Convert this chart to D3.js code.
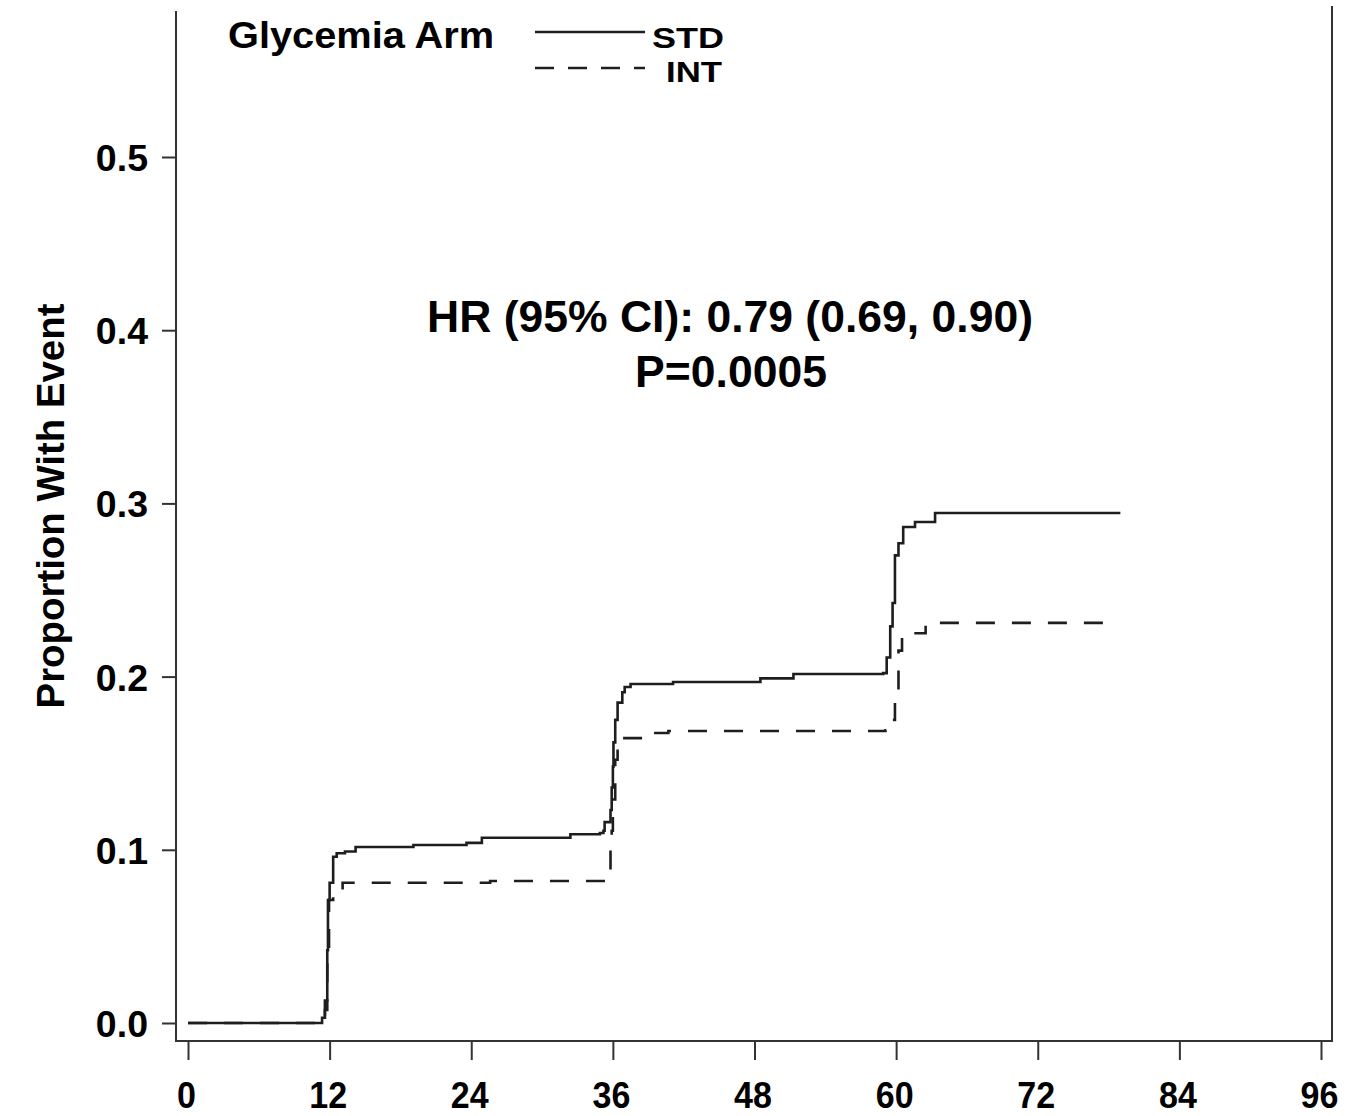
<!DOCTYPE html>
<html>
<head>
<meta charset="utf-8">
<script src="https://cdn.jsdelivr.net/npm/d3@7"></script>
<style>
  html, body { margin: 0; padding: 0; background: #fff; }
  svg { display: block; }
  text { font-family: "Liberation Sans", Arial, sans-serif; font-weight: bold; fill: #000; }
</style>
</head>
<body>
<svg id="chart" width="1347" height="1116"></svg>
<script>
// ---- data (months, proportion with event) ----
const stdTime = [0, 11.0, 11.36, 11.6, 11.8, 11.86, 12.0, 12.3, 12.6, 13.3, 14.2, 19.1, 23.6, 24.9, 32.4, 34.9, 35.2, 35.3, 35.8, 35.9, 36.0, 36.05, 36.2, 36.4, 36.8, 37.0, 37.5, 41.1, 48.5, 51.3, 58.9, 59.2, 59.5, 59.7, 59.9, 60.2, 60.6, 61.6, 63.3, 79.0];
const stdProp = [0, 0, 0.003, 0.013, 0.042, 0.071, 0.081, 0.096, 0.098, 0.099, 0.1016, 0.1028, 0.104, 0.107, 0.109, 0.1097, 0.111, 0.116, 0.123, 0.136, 0.148, 0.162, 0.175, 0.185, 0.191, 0.194, 0.1957, 0.1969, 0.199, 0.2015, 0.202, 0.211, 0.229, 0.2425, 0.270, 0.277, 0.2864, 0.2893, 0.2945, 0.2945];
const intTime = [0, 11.2, 11.6, 11.8, 11.95, 12.3, 13.1, 25.6, 35.2, 35.5, 35.8, 35.9, 36.0, 36.2, 36.4, 36.8, 39.6, 40.7, 59.1, 59.5, 59.7, 59.9, 60.2, 60.5, 62.5, 78.1];
const intProp = [0, 0, 0.0075, 0.036, 0.071, 0.077, 0.081, 0.082, 0.082, 0.0866, 0.104, 0.111, 0.129, 0.152, 0.162, 0.1645, 0.1674, 0.1686, 0.169, 0.1715, 0.175, 0.192, 0.215, 0.225, 0.231, 0.231];
const xTicks = [0, 12, 24, 36, 48, 60, 72, 84, 96];
const yTicks = [0.0, 0.1, 0.2, 0.3, 0.4, 0.5];
const seriesNames = ["STD", "INT"];
const legendTitle = "Glycemia Arm";
const yTitle = "Proportion With Event";
const annotLines = ["HR (95% CI): 0.79 (0.69, 0.90)", "P=0.0005"];

const svg = d3.select("#chart");
const x = d3.scaleLinear().domain([0, 96]).range([188, 1321]);
const y = d3.scaleLinear().domain([0, 0.5]).range([1023, 157]);

const frameL = 176, frameR = 1332, frameB = 1041, frameT = 11;
const ink = "#1e1e1e";

// frame (left, bottom, right; no top)
svg.append("path")
  .attr("d", `M${frameL},${frameT}V${frameB}H${frameR}V${6}`)
  .attr("fill", "none").attr("stroke", "#333").attr("stroke-width", 2);

// y axis
const gy = svg.append("g").attr("transform", `translate(${frameL},0)`)
  .call(d3.axisLeft(y).tickValues(yTicks).tickFormat(d3.format(".1f")).tickSize(14).tickPadding(14));
gy.select(".domain").remove();
gy.selectAll(".tick line").attr("stroke", "#333").attr("stroke-width", 2);
gy.selectAll(".tick text").style("font-size", "37.5px").attr("dy", "0.36em").attr("fill", "#000");

// x axis
const gx = svg.append("g").attr("transform", `translate(0,${frameB})`)
  .call(d3.axisBottom(x).tickValues(xTicks).tickFormat(d3.format("d")).tickSize(19).tickPadding(22));
gx.select(".domain").remove();
gx.selectAll(".tick line").attr("stroke", "#333").attr("stroke-width", 2);
gx.selectAll(".tick text").style("font-size", "37px").attr("fill", "#000")
  .attr("transform", "translate(-2,0) scale(0.92,1)");

// y title
svg.append("text")
  .attr("transform", `translate(64,506) rotate(-90)`)
  .attr("text-anchor", "middle")
  .style("font-size", "38.4px")
  .text(yTitle);

// curves
const line = d3.line().x(d => x(d[0])).y(d => y(d[1])).curve(d3.curveStepAfter);
const stdData = stdTime.map((t, i) => [t, stdProp[i]]);
const intData = intTime.map((t, i) => [t, intProp[i]]);

svg.append("path").datum(stdData).attr("d", line)
  .attr("fill", "none").attr("stroke", ink).attr("stroke-width", 2.6);
svg.append("path").datum(intData).attr("d", line)
  .attr("fill", "none").attr("stroke", ink).attr("stroke-width", 2.6)
  .attr("stroke-dasharray", "19,17");

// legend
svg.append("text").attr("x", 228).attr("y", 48).style("font-size", "37px")
  .attr("textLength", 266).attr("lengthAdjust", "spacingAndGlyphs").text(legendTitle);
svg.append("line").attr("x1", 535).attr("x2", 645).attr("y1", 32).attr("y2", 32)
  .attr("stroke", ink).attr("stroke-width", 2.4);
svg.append("line").attr("x1", 535).attr("x2", 645).attr("y1", 68).attr("y2", 68)
  .attr("stroke", ink).attr("stroke-width", 2.4).attr("stroke-dasharray", "19,14");
svg.append("text").attr("x", 652).attr("y", 48).style("font-size", "29px")
  .attr("textLength", 72).attr("lengthAdjust", "spacingAndGlyphs").text(seriesNames[0]);
svg.append("text").attr("x", 666).attr("y", 82).style("font-size", "29px")
  .attr("textLength", 56).attr("lengthAdjust", "spacingAndGlyphs").text(seriesNames[1]);

// annotation
svg.append("text").attr("x", 730).attr("y", 332).attr("text-anchor", "middle").style("font-size", "44.5px").text(annotLines[0]);
svg.append("text").attr("x", 731).attr("y", 387).attr("text-anchor", "middle").style("font-size", "44.5px").text(annotLines[1]);
</script>
</body>
</html>
